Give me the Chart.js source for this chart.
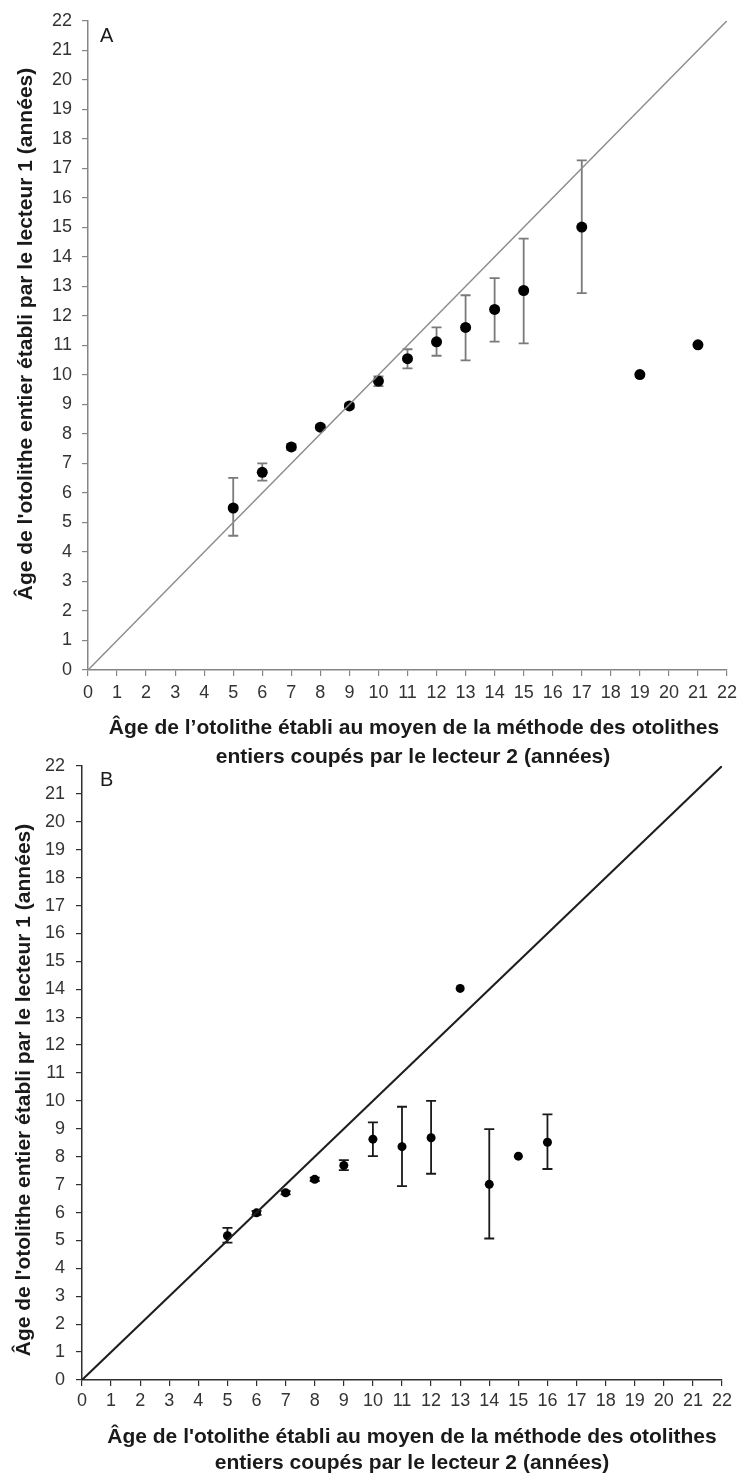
<!DOCTYPE html>
<html>
<head>
<meta charset="utf-8">
<script src="https://cdn.jsdelivr.net/npm/chart.js@4.4.0/dist/chart.umd.min.js"></script>
<style>
  body { margin: 0; background: #fff; }
  #wrap { position: relative; width: 743px; height: 1477px; }
  canvas { position: absolute; left: 0; }
  #chartA { top: 0; }
  #chartB { top: 740px; }
</style>
</head>
<body>
<div id="wrap">
  <canvas id="chartA" width="743" height="780"></canvas>
  <canvas id="chartB" width="743" height="737"></canvas>
</div>
<script>
// Panel A : mean age by reader 1 (whole otolith) vs age by reader 2 (cut otolith)
const agesA = [5, 6, 7, 8, 9, 10, 11, 12, 13, 14, 15, 17, 19, 21];
const meanA = [5.49, 6.70, 7.56, 8.23, 8.95, 9.79, 10.55, 11.12, 11.61, 12.22, 12.86, 15.01, 10.01, 11.02];
const lowA  = [4.55, 6.42, 7.46, 8.15, 8.87, 9.62, 10.22, 10.65, 10.49, 11.13, 11.07, 12.77, null, null];
const highA = [6.51, 7.00, 7.66, 8.31, 9.03, 9.95, 10.87, 11.61, 12.70, 13.28, 14.62, 17.27, null, null];

// Panel B
const agesB = [5, 6, 7, 8, 9, 10, 11, 12, 13, 14, 15, 16];
const meanB = [5.17, 5.99, 6.71, 7.19, 7.69, 8.63, 8.36, 8.68, 14.03, 7.01, 8.02, 8.52];
const lowB  = [4.92, 5.92, 6.65, 7.13, 7.52, 8.02, 6.95, 7.39, null, 5.07, null, 7.56];
const highB = [5.45, 6.06, 6.77, 7.25, 7.88, 9.23, 9.79, 10.00, null, 8.99, null, 9.52];

// 1:1 reference line and axis range
const identity = [0, 22];
const axisMin = 0, axisMax = 22;

const yTitle = "Âge de l'otolithe entier établi par le lecteur 1 (années)";
const xTitleA1 = "Âge de l’otolithe établi au moyen de la méthode des otolithes";
const xTitleB1 = "Âge de l'otolithe établi au moyen de la méthode des otolithes";
const xTitle2 = "entiers coupés par le lecteur 2 (années)";

const FONT = "'Liberation Sans', Arial, sans-serif";

// draws the vertical bars with caps from the low/high arrays
const errorBars = {
  id: 'errorBars',
  beforeDatasetsDraw(chart, args, opts) {
    const { ctx, scales: { x, y } } = chart;
    ctx.save();
    ctx.strokeStyle = opts.color;
    ctx.lineWidth = opts.width;
    opts.xs.forEach((v, i) => {
      if (opts.low[i] == null) return;
      const px = x.getPixelForValue(v);
      const top = y.getPixelForValue(opts.high[i]);
      const bot = y.getPixelForValue(opts.low[i]);
      ctx.beginPath();
      ctx.moveTo(px, top); ctx.lineTo(px, bot);
      ctx.moveTo(px - opts.cap, top); ctx.lineTo(px + opts.cap, top);
      ctx.moveTo(px - opts.cap, bot); ctx.lineTo(px + opts.cap, bot);
      ctx.stroke();
    });
    ctx.restore();
  }
};

// free text: panel letter and axis titles
const panelText = {
  id: 'panelText',
  afterDraw(chart, args, opts) {
    const ctx = chart.ctx;
    opts.items.forEach(it => {
      ctx.save();
      ctx.translate(it.x, it.y);
      if (it.rotate) ctx.rotate(it.rotate);
      ctx.font = it.font;
      ctx.fillStyle = '#1a1a1a';
      ctx.textAlign = it.align || 'center';
      ctx.textBaseline = 'middle';
      ctx.fillText(it.text, 0, 0);
      ctx.restore();
    });
  }
};

function makeChart(id, p) {
  const scaleBase = {
    type: 'linear',
    min: axisMin,
    max: axisMax,
    grid: { drawOnChartArea: false, drawTicks: true, tickLength: 6, color: p.axis, lineWidth: 1.2 },
    border: { color: p.axis, width: 1.5 }
  };
  return new Chart(document.getElementById(id), {
    type: 'scatter',
    data: {
      datasets: [
        {
          data: identity.map(v => ({ x: v, y: v })),
          showLine: true,
          borderColor: p.line,
          borderWidth: p.lineWidth,
          pointRadius: 0
        },
        {
          data: p.xs.map((v, i) => ({ x: v, y: p.means[i] })),
          backgroundColor: '#000',
          borderColor: '#000',
          pointRadius: p.dot,
          borderWidth: 0
        }
      ]
    },
    options: {
      responsive: false,
      animation: false,
      layout: { padding: p.padding },
      plugins: {
        legend: { display: false },
        tooltip: { enabled: false },
        errorBars: { xs: p.xs, low: p.low, high: p.high, color: p.barColor, width: 1.8, cap: 5 },
        panelText: { items: p.texts }
      },
      scales: {
        x: Object.assign({}, scaleBase, {
          ticks: { stepSize: 1, autoSkip: false, maxRotation: 0, padding: p.xPad, color: '#333', font: { family: FONT, size: 18 } },
          afterFit: s => { s.height = p.xHeight; }
        }),
        y: Object.assign({}, scaleBase, {
          ticks: { stepSize: 1, autoSkip: false, padding: p.yPad, color: '#333', font: { family: FONT, size: 18 } },
          afterFit: s => { s.width = p.yWidth; }
        })
      }
    },
    plugins: [errorBars, panelText]
  });
}

const titleFont = 'bold 21px ' + FONT;

makeChart('chartA', {
  xs: agesA, means: meanA, low: lowA, high: highA,
  axis: '#858585', line: '#8c8c8c', lineWidth: 1.5, barColor: '#7a7a7a', dot: 5.5,
  padding: { top: 13, right: 11, left: 0, bottom: 0 },
  xHeight: 110, yWidth: 88, xPad: 6, yPad: 10,
  texts: [
    { text: 'A', x: 100, y: 36, align: 'left', font: '20px ' + FONT },
    { text: yTitle, x: 26, y: 334, rotate: -Math.PI / 2, font: titleFont },
    { text: xTitleA1, x: 414, y: 728, font: titleFont },
    { text: xTitle2, x: 413, y: 757, font: titleFont }
  ]
});

makeChart('chartB', {
  xs: agesB, means: meanB, low: lowB, high: highB,
  axis: '#2e2e2e', line: '#1e1e1e', lineWidth: 2, barColor: '#1a1a1a', dot: 4.5,
  padding: { top: 26, right: 21, left: 0, bottom: 0 },
  xHeight: 97, yWidth: 82, xPad: 4, yPad: 11,
  texts: [
    { text: 'B', x: 100, y: 40, align: 'left', font: '20px ' + FONT },
    { text: yTitle, x: 24, y: 350, rotate: -Math.PI / 2, font: titleFont },
    { text: xTitleB1, x: 412, y: 697, font: titleFont },
    { text: xTitle2, x: 412, y: 723, font: titleFont }
  ]
});
</script>
</body>
</html>
